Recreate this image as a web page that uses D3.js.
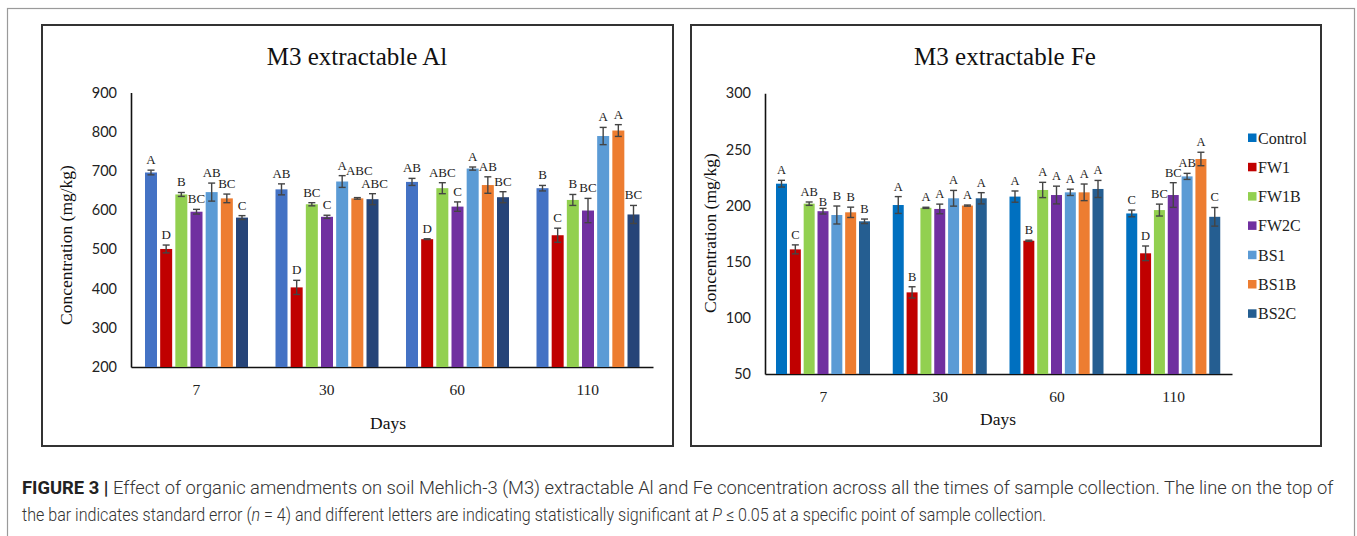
<!DOCTYPE html>
<html>
<head>
<meta charset="utf-8">
<script src="https://cdn.jsdelivr.net/npm/d3@7"></script>
<style>
html,body{margin:0;padding:0;background:#fff;}
svg{display:block;}
</style>
</head>
<body>
<svg id="chart" width="1357" height="536"></svg>
<script>
// ---------- data ----------
const days = ["7", "30", "60", "110"];
const treatments = ["Control", "FW1", "FW1B", "FW2C", "BS1", "BS1B", "BS2C"];

// M3 extractable Al (mg/kg), per treatment across days
const alControl = [696, 653, 672, 656];
const alFW1     = [501, 403, 526, 536];
const alFW1B    = [640, 615, 656, 626];
const alFW2C    = [596, 583, 609, 599];
const alBS1     = [646, 673, 706, 789];
const alBS1B    = [630, 630, 664, 803];
const alBS2C    = [581, 628, 633, 589];
// standard errors
const alControlSE = [6, 14, 9, 7];
const alFW1SE     = [10, 18, 1, 18];
const alFW1BSE    = [5, 4, 14, 14];
const alFW2CSE    = [6, 4, 12, 31];
const alBS1SE     = [23, 15, 4, 22];
const alBS1BSE    = [11, 2, 21, 15];
const alBS2CSE    = [5, 14, 14, 23];
// significance letters
const alControlSig = ["A", "AB", "AB", "B"];
const alFW1Sig     = ["D", "D", "D", "C"];
const alFW1BSig    = ["B", "BC", "ABC", "B"];
const alFW2CSig    = ["BC", "C", "C", "BC"];
const alBS1Sig     = ["AB", "A", "A", "A"];
const alBS1BSig    = ["BC", "ABC", "AB", "A"];
const alBS2CSig    = ["C", "ABC", "BC", "BC"];

// M3 extractable Fe (mg/kg)
const feControl = [219.5, 200.5, 208, 193];
const feFW1     = [161, 122.7, 168.7, 157.5];
const feFW1B    = [201.7, 198, 213.9, 196];
const feFW2C    = [195, 197, 209.4, 209.4];
const feBS1     = [191.6, 206.5, 211.8, 226];
const feBS1B    = [194, 200, 211.8, 241.5];
const feBS2C    = [186, 206.5, 214.8, 190];
const feControlSE = [3, 7.5, 5, 3];
const feFW1SE     = [4, 5, 0.5, 6.5];
const feFW1BSE    = [1.5, 0.5, 6.8, 5.3];
const feFW2CSE    = [2.5, 4.3, 7.9, 11];
const feBS1SE     = [8, 7, 2.8, 2.7];
const feBS1BSE    = [4.6, 0.5, 7.4, 6];
const feBS2CSE    = [2, 5, 7.6, 8.3];
const feControlSig = ["A", "A", "A", "C"];
const feFW1Sig     = ["C", "B", "B", "D"];
const feFW1BSig    = ["AB", "A", "A", "BC"];
const feFW2CSig    = ["B", "A", "A", "BC"];
const feBS1Sig     = ["B", "A", "A", "AB"];
const feBS1BSig    = ["B", "A", "A", "A"];
const feBS2CSig    = ["B", "A", "A", "C"];

const alTicks = [200, 300, 400, 500, 600, 700, 800, 900];
const feTicks = [50, 100, 150, 200, 250, 300];

const alColors = ["#4472C4", "#C00000", "#92D050", "#7030A0", "#5B9BD5", "#ED7D31", "#264478"];
const feColors = ["#0070C0", "#C00000", "#92D050", "#7030A0", "#5B9BD5", "#ED7D31", "#255E91"];

const alMeans = [alControl, alFW1, alFW1B, alFW2C, alBS1, alBS1B, alBS2C];
const alSE = [alControlSE, alFW1SE, alFW1BSE, alFW2CSE, alBS1SE, alBS1BSE, alBS2CSE];
const alSig = [alControlSig, alFW1Sig, alFW1BSig, alFW2CSig, alBS1Sig, alBS1BSig, alBS2CSig];
const feMeans = [feControl, feFW1, feFW1B, feFW2C, feBS1, feBS1B, feBS2C];
const feSE = [feControlSE, feFW1SE, feFW1BSE, feFW2CSE, feBS1SE, feBS1BSE, feBS2CSE];
const feSig = [feControlSig, feFW1Sig, feFW1BSig, feFW2CSig, feBS1Sig, feBS1BSig, feBS2CSig];

function buildRows(means, ses, sigs) {
  const rows = [];
  treatments.forEach((t, ti) => {
    days.forEach((d, di) => {
      rows.push({ t, ti, d, v: means[ti][di], se: ses[ti][di], sig: sigs[ti][di] });
    });
  });
  return rows;
}

const svg = d3.select("#chart");
const SERIF = "'Liberation Serif','Times New Roman',serif";
const SANS = "Lato,'Liberation Sans',sans-serif";

// outer frame
svg.append("rect").attr("x", 7.5).attr("y", 8.5).attr("width", 1347).attr("height", 560)
  .attr("fill", "none").attr("stroke", "#9a9a9a").attr("stroke-width", 1.2);

function drawPanel(cfg) {
  const g = svg.append("g");
  g.append("rect").attr("x", cfg.box[0]).attr("y", cfg.box[1])
    .attr("width", cfg.box[2] - cfg.box[0]).attr("height", cfg.box[3] - cfg.box[1])
    .attr("fill", "none").attr("stroke", "#333").attr("stroke-width", 2);

  const x0 = d3.scaleBand().domain(days).range([cfg.xr[0], cfg.xr[1]]).paddingInner(0).paddingOuter(0);
  const x1 = d3.scaleBand().domain(treatments)
    .range([cfg.inner[0], cfg.inner[1]]).paddingInner(cfg.pad).paddingOuter(0);
  const y = d3.scaleLinear().domain(cfg.domain).range([cfg.yr[0], cfg.yr[1]]);

  g.append("text").attr("x", cfg.titleX).attr("y", 65).attr("text-anchor", "middle")
    .attr("font-family", SERIF).attr("font-size", 25).attr("fill", "#111").text(cfg.title);

  const ya = g.append("g").attr("transform", `translate(${cfg.xr[0]},0)`)
    .call(d3.axisLeft(y).tickValues(cfg.ticks).tickSize(0).tickPadding(14).tickSizeOuter(0));
  ya.select(".domain").attr("stroke", "#111").attr("stroke-width", 1.6);
  ya.selectAll("text").attr("font-family", SANS).attr("font-size", 14.5).attr("fill", "#222");

  const xa = g.append("g").attr("transform", `translate(0,${cfg.yr[0]})`)
    .call(d3.axisBottom(x0).tickSize(0).tickPadding(17).tickSizeOuter(0));
  xa.select(".domain").attr("stroke", "#111").attr("stroke-width", 1.6);
  xa.selectAll("text").attr("font-family", SERIF).attr("font-size", 15.5).attr("fill", "#222");

  g.append("text").attr("transform", `translate(${cfg.yTitle[0]},${cfg.yTitle[1]}) rotate(-90)`)
    .attr("text-anchor", "middle").attr("font-family", SERIF).attr("font-size", 17.5).attr("fill", "#111")
    .text("Concentration (mg/kg)");
  g.append("text").attr("x", cfg.xTitle[0]).attr("y", cfg.xTitle[1]).attr("text-anchor", "middle")
    .attr("font-family", SERIF).attr("font-size", 17.5).attr("fill", "#111").text("Days");

  const rows = buildRows(cfg.means, cfg.ses, cfg.sigs);
  const cx = r => x0(r.d) + x1(r.t) + x1.bandwidth() / 2;

  g.append("g").selectAll("rect").data(rows).join("rect")
    .attr("x", r => x0(r.d) + x1(r.t)).attr("width", x1.bandwidth())
    .attr("y", r => y(r.v)).attr("height", r => y(cfg.domain[0]) - y(r.v))
    .attr("fill", r => cfg.colors[r.ti]);

  const eb = g.append("g").attr("stroke", "#444").attr("stroke-width", 1.4);
  eb.selectAll("line.v").data(rows).join("line").attr("class", "v")
    .attr("x1", cx).attr("x2", cx).attr("y1", r => y(r.v + r.se)).attr("y2", r => y(r.v - r.se));
  eb.selectAll("line.t").data(rows).join("line").attr("class", "t")
    .attr("x1", r => cx(r) - 3.5).attr("x2", r => cx(r) + 3.5)
    .attr("y1", r => y(r.v + r.se)).attr("y2", r => y(r.v + r.se));
  eb.selectAll("line.b").data(rows).join("line").attr("class", "b")
    .attr("x1", r => cx(r) - 3.5).attr("x2", r => cx(r) + 3.5)
    .attr("y1", r => y(r.v - r.se)).attr("y2", r => y(r.v - r.se));

  g.append("g").selectAll("text").data(rows).join("text")
    .attr("x", r => cx(r) + (cfg.shift(r) || [0, 0])[0])
    .attr("y", r => y(r.v + r.se) - 6 + (cfg.shift(r) || [0, 0])[1])
    .attr("text-anchor", "middle")
    .attr("font-family", SERIF).attr("font-size", cfg.sigSize).attr("fill", "#222")
    .text(r => r.sig);

  return g;
}

// manual label nudges, as in the original figure where labels were hand-placed
drawPanel({
  box: [42, 25, 673, 446], title: "M3 extractable Al", titleX: 357,
  xr: [131, 653], inner: [14, 117], pad: 0.209,
  domain: [200, 900], yr: [367, 92.5], ticks: alTicks,
  yTitle: [72, 245], xTitle: [388, 429],
  means: alMeans, ses: alSE, sigs: alSig, colors: alColors, sigSize: 13,
  shift: r => (r.d === "30" && r.t === "BS1B") ? [2, -17] : (r.d === "30" && r.t === "BS2C") ? [2, 0] : null
});

drawPanel({
  box: [691, 25, 1321, 446], title: "M3 extractable Fe", titleX: 1005,
  xr: [765, 1232], inner: [11, 105], pad: 0.205,
  domain: [50, 300], yr: [374, 93.3], ticks: feTicks,
  yTitle: [716, 233], xTitle: [998, 425],
  means: feMeans, ses: feSE, sigs: feSig, colors: feColors, sigSize: 12.5,
  shift: r => (r.d === "7" && r.t === "FW2C") ? [0, 4] : null
});

// legend
const lg = svg.append("g");
treatments.forEach((t, i) => {
  const yy = 138 + i * 29.3;
  lg.append("rect").attr("x", 1248).attr("y", yy - 4.5).attr("width", 8.5).attr("height", 8.5).attr("fill", feColors[i]);
  lg.append("text").attr("x", 1258).attr("y", yy + 5.5).attr("font-family", SERIF).attr("font-size", 16)
    .attr("fill", "#222").text(t);
});

// caption (condensed sans look: natural layout, then squeezed horizontally)
const CAP = "Roboto,'Liberation Sans',sans-serif";
function captionLine(yPos, width, build) {
  const t = svg.append("text").attr("x", 0).attr("y", 0).attr("font-family", CAP).attr("font-size", 17.5)
    .attr("fill", "#333").attr("font-weight", 300);
  build(t);
  const w = t.node().getComputedTextLength();
  t.attr("transform", `translate(22,${yPos}) scale(${width / w},1)`);
  return t;
}
captionLine(494, 1312, t => {
  t.append("tspan").attr("font-weight", 700).attr("fill", "#222").text("FIGURE 3 | ");
  t.append("tspan").text("Effect of organic amendments on soil Mehlich-3 (M3) extractable Al and Fe concentration across all the times of sample collection. The line on the top of");
});
captionLine(521, 1025, t => {
  t.append("tspan").text("the bar indicates standard error (");
  t.append("tspan").attr("font-style", "italic").text("n");
  t.append("tspan").text(" = 4) and different letters are indicating statistically significant at ");
  t.append("tspan").attr("font-style", "italic").text("P");
  t.append("tspan").text(" ≤ 0.05 at a specific point of sample collection.");
});
</script>
</body>
</html>
